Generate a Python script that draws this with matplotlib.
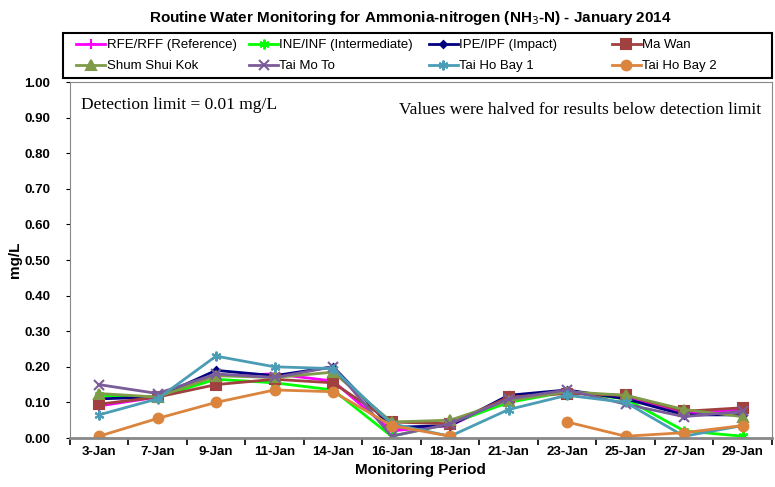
import numpy as np
import matplotlib
matplotlib.use("Agg")
import matplotlib.pyplot as plt
from matplotlib.patches import Rectangle

# sampling dates
dates = ["3-Jan", "7-Jan", "9-Jan", "11-Jan", "14-Jan", "16-Jan",
         "18-Jan", "21-Jan", "23-Jan", "25-Jan", "27-Jan", "29-Jan"]

# ammonia-nitrogen values (mg/L)
rfe = [0.09, 0.115, 0.175, 0.18, 0.16, 0.02, 0.035, 0.11, 0.13, 0.115, 0.07, 0.08]
ine = [0.12, 0.115, 0.165, 0.155, 0.135, 0.005, 0.04, 0.10, 0.13, 0.11, 0.02, 0.005]
ipe = [0.11, 0.115, 0.19, 0.175, 0.20, 0.03, 0.035, 0.12, 0.135, 0.11, 0.065, 0.065]
ma_wan = [0.095, 0.115, 0.15, 0.165, 0.155, 0.045, 0.04, 0.115, 0.125, 0.12, 0.075, 0.085]
shum_shui_kok = [0.125, 0.115, 0.175, 0.17, 0.185, 0.045, 0.05, 0.105, 0.13, 0.12, 0.08, 0.06]
tai_mo_to = [0.15, 0.125, 0.18, 0.17, 0.20, 0.005, 0.04, 0.11, 0.135, 0.095, 0.06, 0.075]
tai_ho_bay1 = [0.065, 0.11, 0.23, 0.20, 0.195, 0.04, 0.005, 0.08, 0.12, 0.10, 0.005, 0.035]
tai_ho_bay2 = [0.005, 0.055, 0.10, 0.135, 0.13, 0.035, 0.005, np.nan, 0.045, 0.005, 0.015, 0.035]

series = [
    ("RFE/RFF (Reference)", rfe, "#FF00FF", "+"),
    ("INE/INF (Intermediate)", ine, "#00FF00", (6, 2, 0)),
    ("IPE/IPF (Impact)", ipe, "#000080", "D"),
    ("Ma Wan", ma_wan, "#A0413F", "s"),
    ("Shum Shui Kok", shum_shui_kok, "#7F9A48", "^"),
    ("Tai Mo To", tai_mo_to, "#7A5C9A", "x"),
    ("Tai Ho Bay 1", tai_ho_bay1, "#4A9DB4", (6, 2, 0)),
    ("Tai Ho Bay 2", tai_ho_bay2, "#DB843D", "o"),
]
sizes = {"+": 7, "D": 3.5, "s": 7, "^": 7, "x": 7, "o": 7}

fig = plt.figure(figsize=(7.75, 4.87), dpi=100)
ax = fig.add_axes([0.090, 0.1006, 0.906, 0.731])

x = np.arange(len(dates))
handles = []
for name, vals, col, mk in series:
    ms = sizes.get(mk, 7) if isinstance(mk, str) else 7
    h, = ax.plot(x, vals, color=col, marker=mk, markersize=ms, lw=2,
                 markeredgewidth=1.5, label=name)
    handles.append(h)

ax.set_xlim(-0.5, len(dates) - 0.5)
ax.set_ylim(0, 1.0)
ax.set_yticks(np.arange(0, 1.01, 0.1))
ax.set_yticklabels(["%.2f" % v for v in np.arange(0, 1.01, 0.1)],
                   fontsize=9.5, fontweight="bold", family="Liberation Sans")
ax.set_xticks(x)
ax.set_xticklabels(dates, fontsize=9.5, fontweight="bold", family="Liberation Sans")
ax.set_xticks(np.arange(-0.5, len(dates), 1.0), minor=True)
ax.tick_params(axis="x", which="major", length=0, pad=6)
ax.tick_params(axis="x", which="minor", length=5, width=1.2, direction="out")
ax.tick_params(axis="y", length=3, direction="out", pad=11)

for s in ax.spines.values():
    s.set_color("#888888")
ax.spines["bottom"].set_linewidth(2)

ax.set_xlabel("Monitoring Period", fontsize=11, fontweight="bold",
              family="Liberation Sans", labelpad=3)
ax.set_ylabel("mg/L", fontsize=11, fontweight="bold", family="Liberation Sans",
              labelpad=2)

ax.text(0.016, 0.958, "Detection limit = 0.01 mg/L", transform=ax.transAxes,
        fontsize=12.5, family="Liberation Serif", va="top", ha="left")
ax.text(0.984, 0.945, "Values were halved for results below detection limit",
        transform=ax.transAxes, fontsize=12.5, family="Liberation Serif",
        va="top", ha="right")

fig.suptitle("Routine Water Monitoring for Ammonia-nitrogen (NH$_3$-N) - January 2014",
             x=0.529, y=0.982, fontsize=11, fontweight="bold", family="Liberation Sans")

# legend: frame box plus one column legend per slot (equal column widths)
fig.patches.append(Rectangle((0.081, 0.840), 0.915, 0.092, transform=fig.transFigure,
                             fill=False, edgecolor="black", linewidth=1.5))
col_x = [0.095, 0.318, 0.550, 0.786]
for c in range(4):
    idx = [c, c + 4]
    fig.legend([handles[i] for i in idx], [series[i][0] for i in idx],
               loc="upper left", bbox_to_anchor=(col_x[c], 0.925),
               ncol=1, frameon=False, borderpad=0.2, borderaxespad=0,
               handlelength=2.2, handletextpad=0.1, labelspacing=0.65,
               prop={"family": "Liberation Sans", "size": 9.5})

fig.savefig("out.png", dpi=100)
